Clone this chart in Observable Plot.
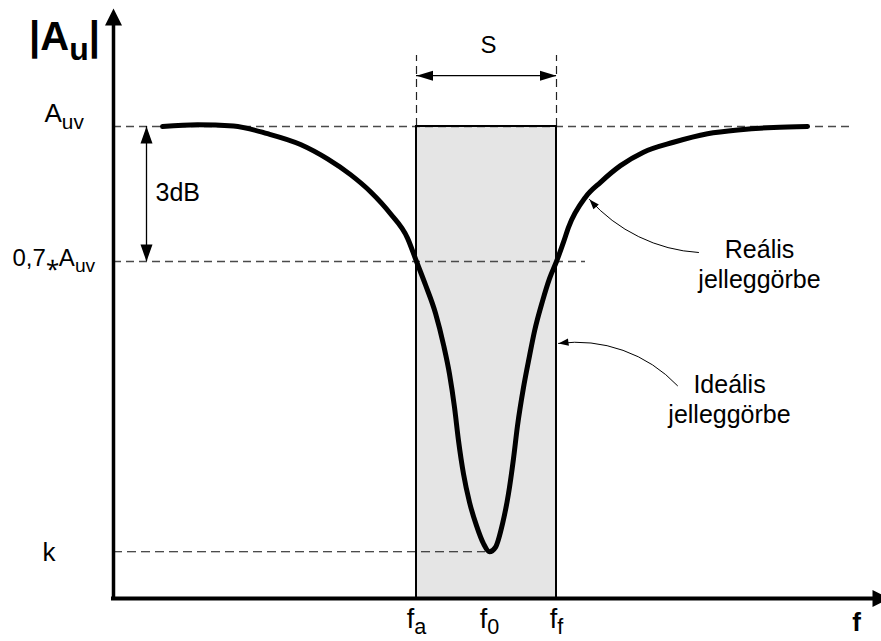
<!DOCTYPE html>
<html>
<head>
<meta charset="utf-8">
<script src="https://cdn.jsdelivr.net/npm/d3@7"></script>
<script src="https://cdn.jsdelivr.net/npm/@observablehq/plot@0.6"></script>
<style>
  body { margin: 0; background: #fff; }
  svg { display: block; }
</style>
</head>
<body>
<div id="chart"></div>
<script>
// Band-stop (notch) amplifier: |Au| against frequency f.
// Frequencies in arbitrary units, gain relative to the pass-band gain Auv.
const fa = 30.3;   // lower band edge
const f0 = 37.6;   // centre (notch) frequency
const ff = 44.3;   // upper band edge

const auv = 1;       // pass-band gain
const auv3dB = 0.7;  // 3 dB level
const kMin = 0.055;  // gain at the notch

// Real response curve
const realF = [4.9, 8.4, 12.0, 15.4, 18.7, 21.4, 23.7, 25.7, 27.7, 29.4, 30.3, 31.2, 32.2, 33.0,
  33.6, 34.1, 34.5, 35.0, 35.6, 36.3, 37.0, 37.6, 38.2, 38.9, 39.5, 40.0, 40.4, 41.0, 41.6,
  42.1, 42.9, 43.6, 44.3, 45.0, 45.5, 47.2, 48.7, 50.7, 53.0, 56.0, 59.4, 62.7, 66.0, 69.4];
const realA = [1.00, 1.004, 1.001, 0.984, 0.960, 0.928, 0.893, 0.855, 0.806, 0.752, 0.700, 0.648,
  0.585, 0.515, 0.450, 0.376, 0.302, 0.228, 0.165, 0.113, 0.073, 0.055, 0.065, 0.117, 0.184,
  0.262, 0.335, 0.420, 0.490, 0.545, 0.612, 0.662, 0.700, 0.743, 0.776, 0.843, 0.876, 0.913,
  0.943, 0.965, 0.984, 0.993, 0.998, 1.000];

// Axis texts
const yTickValues = [auv, auv3dB, kMin];
const yTickLabels = ["A_{uv}", "0,7⁎A_{uv}", "k"];
const xTickValues = [fa, f0, ff];
const xTickLabels = ["f_{a}", "f_{0}", "f_{f}"];
const yTitle = "|A_{u}|";
const xTitle = "f";

// Annotation texts
const bandLabel = "S";
const dbLabel = "3dB";
const realLabel = "Reális\njelleggörbe";
const idealLabel = "Ideális\njelleggörbe";

// ---- layout (chart units) ----
const Y_BASE = -0.0489, Y_TOP = 1.28, Y_TIP = 1.262;
const X_END = 76.8, X_TIP = 77.6;
const guideEnds = [73.7, 47.2, 37.2];     // how far each horizontal guide runs
const edgeTop = 1.158;                    // top of the dashed band-edge markers
const sY = 1.113;                          // height of the S dimension arrow
const dbX = 3.3;                           // position of the 3 dB dimension arrow
const yLabelPos = [{x: -6.9, dy: -4, size: 26}, {x: -10.1, dy: 5, size: 24}, {x: -7.1, dy: 9, size: 26}];
const realArrow = {x1: 58.5, y1: 0.72, x2: 47.6, y2: 0.838, bend: 22.5, rot: -131.6};
const idealArrow = {x1: 56.4, y1: 0.424, x2: 44.5, y2: 0.518, bend: -27, rot: 172.4};

const font = "'Liberation Sans', Arial, Helvetica, sans-serif";
const real = realF.map((f, i) => ({f, a: realA[i]}));
const band = [{x1: fa, x2: ff, y1: Y_BASE, y2: auv}];
const guides = yTickValues.map((y, i) => ({y, x2: guideEnds[i]}));

// filled arrowhead, tip at the origin, pointing along +x
const head = (len, half) => ({
  draw(c) { c.moveTo(0, 0); c.lineTo(-len, -half); c.lineTo(-len, half); c.closePath(); }
});

const marks = [
  // ideal response: shaded band
  Plot.rect(band, {x1: "x1", x2: "x2", y1: "y1", y2: "y2", fill: "#e5e5e5"}),
  // dashed guides
  Plot.ruleY(guides.slice(0, 2), {y: "y", x1: 0, x2: "x2", stroke: "#4a4a4a", strokeWidth: 1.3, strokeDasharray: "8,5"}),
  Plot.ruleY(guides.slice(2), {y: "y", x1: 0, x2: "x2", stroke: "#111", strokeWidth: 1.2, strokeDasharray: "9,5"}),
  Plot.ruleX([fa, ff], {x: d => d, y1: auv, y2: edgeTop, stroke: "#222", strokeWidth: 1.2, strokeDasharray: "8,5"}),
  Plot.rect(band, {x1: "x1", x2: "x2", y1: "y1", y2: "y2", fill: "none", stroke: "#000", strokeWidth: 2}),
  // real response
  Plot.line(real, {x: "f", y: "a", curve: "monotone-x", stroke: "#000", strokeWidth: 5}),
  // axes
  Plot.ruleX([0], {x: d => d, y1: Y_BASE, y2: Y_TIP - 0.02, stroke: "#000", strokeWidth: 3.5, strokeLinecap: "square"}),
  Plot.ruleY([Y_BASE], {y: d => d, x1: 0, x2: X_TIP - 1, stroke: "#000", strokeWidth: 4, strokeLinecap: "square"}),
  Plot.dot([{x: 0, y: Y_TIP, r: -90}], {x: "x", y: "y", rotate: "r", symbol: head(17, 8.5), fill: "#000", r: 5}),
  Plot.dot([{x: X_TIP, y: Y_BASE, r: 0}], {x: "x", y: "y", rotate: "r", symbol: head(17, 8.5), fill: "#000", r: 5}),
  // S dimension arrow
  Plot.ruleY([sY], {y: d => d, x1: fa, x2: ff, stroke: "#000", strokeWidth: 1.3}),
  Plot.dot([{x: fa, y: sY, r: 180}, {x: ff, y: sY, r: 0}], {x: "x", y: "y", rotate: "r", symbol: head(16.5, 5), fill: "#000", r: 5}),
  // 3 dB dimension arrow
  Plot.ruleX([dbX], {x: d => d, y1: auv3dB, y2: auv, stroke: "#000", strokeWidth: 1.3}),
  Plot.dot([{x: dbX, y: auv, r: -90}, {x: dbX, y: auv3dB, r: 90}], {x: "x", y: "y", rotate: "r", symbol: head(17, 6), fill: "#000", r: 5}),
  // curved pointers to the two responses
  ...[realArrow, idealArrow].flatMap(a => [
    Plot.arrow([a], {x1: "x1", y1: "y1", x2: "x2", y2: "y2", bend: a.bend, headLength: 0, stroke: "#000", strokeWidth: 1}),
    Plot.dot([a], {x: "x2", y: "y2", rotate: "rot", symbol: head(10, 3.6), fill: "#000", r: 5})
  ]),
  // texts
  Plot.text([bandLabel], {x: (fa + ff) / 2 + 0.2, y: 1.164, text: d => d, lineAnchor: "bottom", fontSize: 24}),
  Plot.text([dbLabel], {x: 4.2, y: 0.834, text: d => d, textAnchor: "start", lineAnchor: "bottom", fontSize: 25}),
  Plot.text([realLabel], {x: 64.6, y: 0.64, text: d => d, lineAnchor: "bottom", lineHeight: 1.2, fontSize: 25}),
  Plot.text([idealLabel], {x: 61.6, y: 0.342, text: d => d, lineAnchor: "bottom", lineHeight: 1.2, fontSize: 25}),
  ...yTickValues.map((v, i) =>
    Plot.text([yTickLabels[i]], {x: yLabelPos[i].x, y: v, text: d => d, textAnchor: "start", lineAnchor: "bottom",
      dy: yLabelPos[i].dy, fontSize: yLabelPos[i].size})),
  Plot.text(xTickValues, {x: d => d, y: Y_BASE, text: (d, i) => xTickLabels[i], lineAnchor: "bottom", dy: 29, fontSize: 27}),
  Plot.text([xTitle], {x: 74.3, y: Y_BASE, text: d => d, lineAnchor: "bottom", dy: 32, fontSize: 26, fontWeight: "bold"}),
  Plot.text([yTitle], {x: -4.9, y: 1.169, text: d => d, lineAnchor: "bottom", fontSize: 40, fontWeight: "bold"})
];

const chart = Plot.plot({
  width: 881,
  height: 641,
  marginTop: 0, marginRight: 0, marginBottom: 43, marginLeft: 113,
  style: {fontFamily: font, background: "#fff", color: "#000", overflow: "visible"},
  x: {domain: [0, X_END], range: [113, 881], axis: null},
  y: {domain: [Y_BASE, Y_TOP], range: [598, 0], axis: null},
  marks
});
document.getElementById("chart").append(chart);

// Turn "_{...}" into lowered, smaller tspans (subscripts).
d3.select(chart).selectAll("text").each(function () {
  const s = this.textContent;
  if (!s.includes("_{")) return;
  const parts = s.split(/(_\{[^}]*\})/).filter(p => p.length);
  this.textContent = "";
  let low = false;
  for (const p of parts) {
    const t = d3.select(this).append("tspan");
    if (p.startsWith("_{")) {
      t.text(p.slice(2, -1)).attr("font-size", "0.8em").attr("dy", "0.3em");
      low = true;
    } else {
      t.text(p);
      if (low) t.attr("dy", "-0.24em");
      low = false;
    }
  }
});
</script>
</body>
</html>
